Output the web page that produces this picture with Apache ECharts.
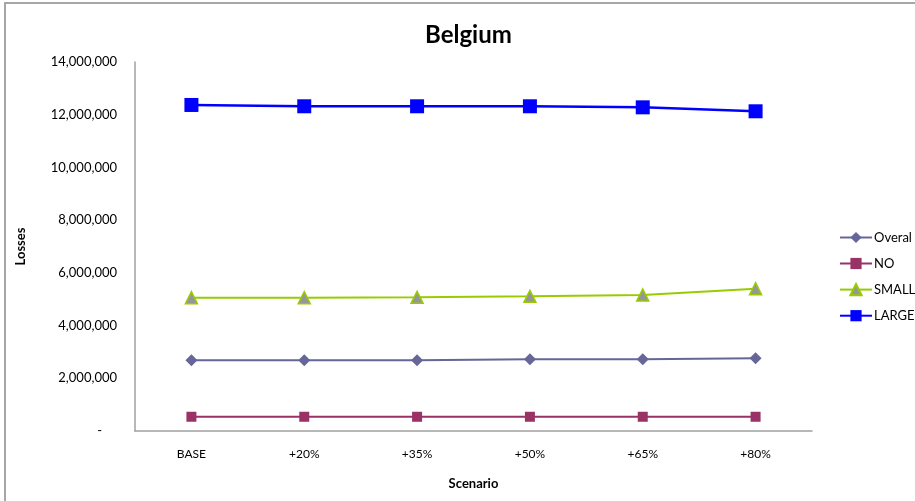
<!DOCTYPE html>
<html>
<head>
<meta charset="utf-8">
<script src="https://cdn.jsdelivr.net/npm/echarts@6/dist/echarts.min.js"></script>
<style>
  html, body { margin: 0; padding: 0; background: #fff; }
  #chart { width: 915px; height: 501px; }
</style>
</head>
<body>
<div id="chart"></div>
<script>
// Scenario categories along the x axis
const scenarios = ['BASE', '+20%', '+35%', '+50%', '+65%', '+80%'];

// Losses per scenario, by series
const overal = [2680000, 2680000, 2680000, 2720000, 2720000, 2760000];
const no = [540000, 540000, 540000, 540000, 540000, 540000];
const small = [5060000, 5060000, 5070000, 5110000, 5160000, 5400000];
const large = [12370000, 12320000, 12320000, 12320000, 12280000, 12130000];

const FONT = 'Lato, "Open Sans", sans-serif';

const chart = echarts.init(document.getElementById('chart'), null, { renderer: 'canvas' });

function fmt(v) {
  if (v === 0) return '{z|-}';
  return v.toLocaleString('en-US');
}

chart.setOption({
  animation: false,
  backgroundColor: '#ffffff',
  textStyle: { fontFamily: FONT },
  graphic: [{
    type: 'rect',
    shape: { x: 5, y: 3, width: 2000, height: 2000 },
    style: { fill: 'none', stroke: '#a6a6a6', lineWidth: 2 },
    silent: true
  }],
  title: {
    text: 'Belgium',
    left: 420,
    top: 18,
    textStyle: { fontFamily: FONT, fontSize: 24, fontWeight: 'bold', color: '#000' }
  },
  legend: {
    orient: 'vertical',
    left: 834,
    top: 226,
    itemWidth: 32,
    itemHeight: 14,
    itemGap: 13,
    textStyle: { fontFamily: FONT, fontSize: 13, color: '#000', padding: [0, 0, 0, -3] },
    data: ['Overal', 'NO', 'SMALL', 'LARGE']
  },
  grid: { left: 135, right: 103, top: 62, bottom: 70, containLabel: false },
  xAxis: {
    type: 'category',
    data: scenarios,
    boundaryGap: true,
    name: 'Scenario',
    nameLocation: 'middle',
    nameGap: 46,
    nameTextStyle: { fontFamily: FONT, fontSize: 13, fontWeight: 'bold', color: '#000' },
    axisLine: { lineStyle: { color: '#a0a0a0', width: 1.5 } },
    axisTick: { show: false },
    axisLabel: { fontFamily: FONT, fontSize: 12, color: '#000', margin: 17 },
    splitLine: { show: false }
  },
  yAxis: {
    type: 'value',
    min: 0,
    max: 14000000,
    interval: 2000000,
    name: 'Losses',
    nameLocation: 'middle',
    nameGap: 108,
    nameRotate: 90,
    nameTextStyle: { fontFamily: FONT, fontSize: 13, fontWeight: 'bold', color: '#000' },
    axisLine: { show: true, lineStyle: { color: '#a0a0a0', width: 1.5 } },
    axisTick: { show: false },
    axisLabel: {
      fontFamily: FONT, fontSize: 13, color: '#000', margin: 18,
      formatter: fmt,
      rich: { z: { fontFamily: FONT, fontSize: 13, color: '#000', padding: [0, 15, 0, 0] } }
    },
    splitLine: { show: false }
  },
  series: [
    {
      name: 'Overal', type: 'line', data: overal,
      symbol: 'diamond', symbolSize: 12,
      lineStyle: { color: '#666699', width: 2 },
      itemStyle: { color: '#666699' }
    },
    {
      name: 'NO', type: 'line', data: no,
      symbol: 'rect', symbolSize: 10,
      lineStyle: { color: '#993366', width: 2 },
      itemStyle: { color: '#993366' }
    },
    {
      name: 'SMALL', type: 'line', data: small,
      symbol: 'triangle', symbolSize: 12,
      lineStyle: { color: '#99CC00', width: 2 },
      itemStyle: { color: '#969696', borderColor: '#99CC00', borderWidth: 1.5 }
    },
    {
      name: 'LARGE', type: 'line', data: large,
      symbol: 'rect', symbolSize: 14,
      lineStyle: { color: '#0000FF', width: 2.5 },
      itemStyle: { color: '#0000FF' }
    }
  ]
});
</script>
</body>
</html>
